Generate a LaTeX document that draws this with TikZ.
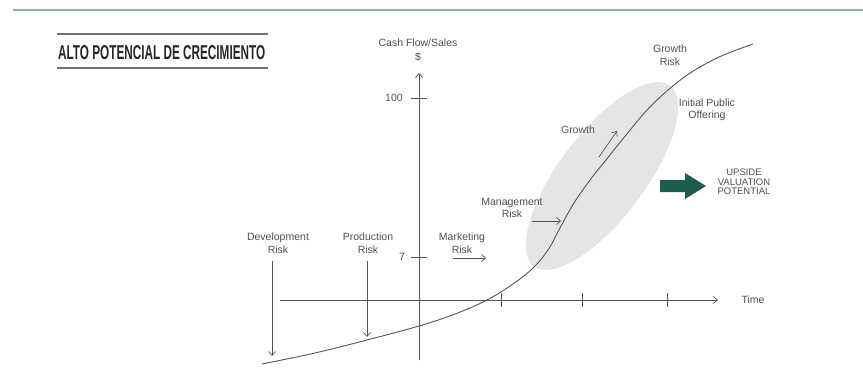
\documentclass[tikz,border=0pt]{standalone}
\usepackage{fontspec}
\setmainfont{Liberation Sans}
\usetikzlibrary{arrows.meta}
\definecolor{rulegreen}{HTML}{8FAAA2}
\definecolor{ellgrey}{HTML}{E4E5E6}
\definecolor{teal}{HTML}{1D5C4E}
\definecolor{txt}{HTML}{505050}
\definecolor{lin}{HTML}{555555}
\begin{document}
\begin{tikzpicture}[x=1pt,y=-1pt,
  lbl/.style={font=\fontsize{10.5}{12.5}\selectfont, text=txt, align=center, inner sep=0},
  ax/.style={draw=lin, line width=0.8pt},
  tip/.style={-{Straight Barb[length=4pt,width=7pt]}},
  ptr/.style={draw=lin, line width=0.7pt, -{Straight Barb[length=4pt,width=7pt]}},
  tick/.style={draw=lin, line width=0.8pt}]
\useasboundingbox (0,0) rectangle (863,383);
% top rule
\coordinate (tl0) at (13,10); \coordinate (tl1) at (863,10);
\draw[rulegreen, line width=1.2pt] (tl0) -- (tl1);
% title
\coordinate (tr0) at (57,34); \coordinate (tr1) at (268,34);
\coordinate (br0) at (57,68); \coordinate (br1) at (268,68);
\draw[black!55, line width=1.1pt] (tr0) -- (tr1);
\draw[black!55, line width=1.1pt] (br0) -- (br1);
\node[anchor=south west, inner sep=0, text=black!85] (title) at (58,60)
  {\resizebox{207pt}{14pt}{\bfseries ALTO POTENCIAL DE CRECIMIENTO}};
% ellipse
\fill[ellgrey] (602,176) ellipse [x radius=113, y radius=43, rotate=53];
% axes
\coordinate (yb) at (419,360); \coordinate (yt) at (419,73);
\draw[ax, tip] (yb) -- (yt);
\coordinate (xl) at (280,300); \coordinate (xr) at (718,300);
\draw[ax, tip] (xl) -- (xr);
\foreach \t/\x in {t1/501,t2/582,t3/667}{
  \coordinate (\t a) at (\x,293); \coordinate (\t b) at (\x,307);
  \draw[tick] (\t a) -- (\t b);}
\coordinate (h1a) at (411,98); \coordinate (h1b) at (427,98);
\draw[tick] (h1a) -- (h1b);
\coordinate (h2a) at (411,257); \coordinate (h2b) at (427,257);
\draw[tick] (h2a) -- (h2b);
\node[lbl] (cf) at (418,43) {Cash Flow/Sales};
\node[lbl] (dol) at (418,57) {\$};
\node[lbl] (l100) at (394,98) {100};
\node[lbl] (l7) at (402,257) {7};
\node[lbl] (time) at (753,300) {Time};
% curve
\draw[lin, line width=0.9pt] plot[smooth, tension=0.6] coordinates {
 (262,364) (315,353) (367,340) (419,326) (455,314) (485,301) (510,286)
 (532,269) (548,250) (561,226) (574,203) (590,180) (606,160) (622,140)
 (650,107) (683,78) (717,58) (753,44)};
% labels with arrows
\node[lbl] (dev) at (278,243) {Development\\Risk};
\coordinate (dev1) at (272,261); \coordinate (dev2) at (272,356);
\draw[ptr] (dev1) -- (dev2);
\node[lbl] (prod) at (368,243) {Production\\Risk};
\coordinate (prod1) at (367,261); \coordinate (prod2) at (367,337);
\draw[ptr] (prod1) -- (prod2);
\node[lbl] (mkt) at (462,243) {Marketing\\Risk};
\coordinate (mkt1) at (453,258); \coordinate (mkt2) at (486,258);
\draw[ptr] (mkt1) -- (mkt2);
\node[lbl] (mgmt) at (512,208) {Management\\Risk};
\coordinate (mg1) at (532,221); \coordinate (mg2) at (561,221);
\draw[ptr] (mg1) -- (mg2);
\node[lbl] (gr) at (578,130) {Growth};
\coordinate (gr1) at (599,157); \coordinate (gr2) at (617,131);
\draw[ptr] (gr1) -- (gr2);
\node[lbl] (grisk) at (670,55) {Growth\\Risk};
\node[lbl] (ipo) at (707,110) {Initial Public\\Offering};
% big arrow
\fill[teal] (660,180) -- (685,180) -- (685,173) -- (706,186) -- (685,199) -- (685,192) -- (660,192) -- cycle;
\node[lbl, font=\fontsize{9.5}{9.5}\selectfont] (up) at (744,182) {UPSIDE\\VALUATION\\POTENTIAL};
\end{tikzpicture}
\end{document}
